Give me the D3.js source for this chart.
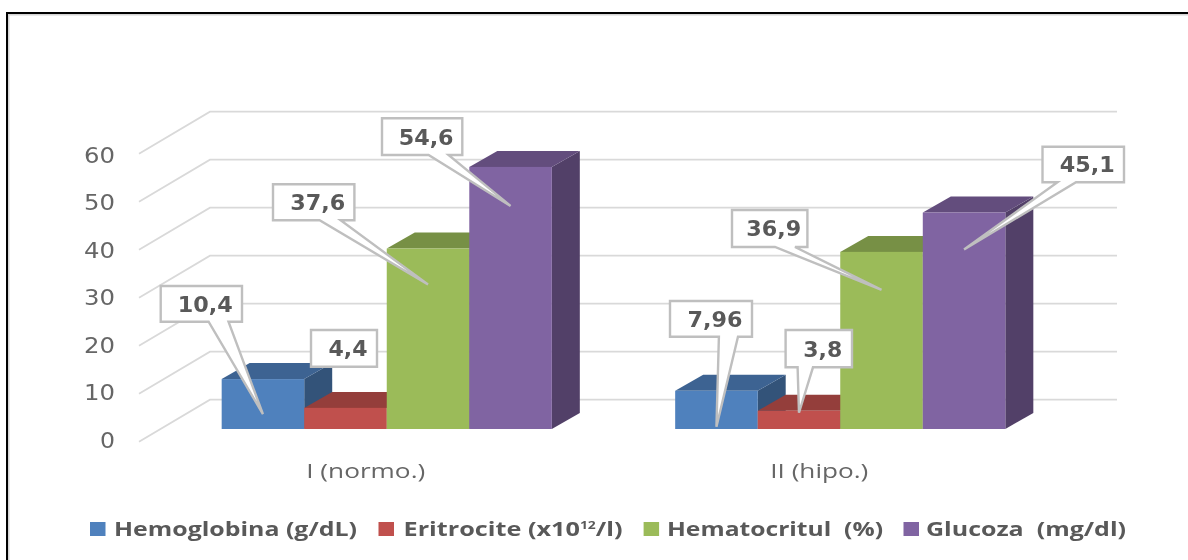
<!DOCTYPE html>
<html>
<head>
<meta charset="utf-8">
<script src="https://cdn.jsdelivr.net/npm/d3@7"></script>
<style>
  html, body { margin: 0; padding: 0; background: #fff; }
  svg { display: block; filter: blur(0.45px); }
  text { white-space: pre; }
</style>
</head>
<body>
<div id="chart"></div>
<script>
const categories = ["I (normo.)", "II (hipo.)"];
const seriesNames = ["Hemoglobina (g/dL)", "Eritrocite (x10", "Hematocritul  (%)", "Glucoza  (mg/dl)"];
const colors = ["#4f81bd", "#c0504d", "#9bbb59", "#8064a2"];
const hemoglobina = [10.4, 7.96];
const eritrocite = [4.4, 3.8];
const hematocrit = [37.6, 36.9];
const glucoza = [54.6, 45.1];
const seriesValues = [hemoglobina, eritrocite, hematocrit, glucoza];
const yTicks = [0, 10, 20, 30, 40, 50, 60];

const width = 1188;
const height = 560;

// offsets of the 3d box
const wallDx = 71, wallDy = 42;   // floor depth
const barOffX = 21, barOffY = 12.7; // front of the bars inside the floor
const depthX = 28, depthY = 16;   // bar depth

const svg = d3.select("#chart")
  .append("svg")
  .attr("width", width)
  .attr("height", height);

const y = d3.scaleLinear().domain([0, 60]).range([441.7, 153.7]);
const x0 = d3.scaleBand().domain(categories).range([139, 1046]).paddingInner(0.272).paddingOuter(0.136);
const x1 = d3.scaleBand().domain(seriesNames).range([0, x0.bandwidth()]);

// stretch a text to a given pixel width
function fit(sel, w) {
  sel.attr("textLength", w).attr("lengthAdjust", "spacingAndGlyphs");
}

// frame, only top and left are in the picture
svg.append("path").attr("d", "M1188,14.5H8.5V560").attr("fill", "none").attr("stroke", "#d4d4d4").attr("stroke-width", 2);
svg.append("path").attr("d", "M1188,13H7V560").attr("fill", "none").attr("stroke", "#000").attr("stroke-width", 2);

// grid lines, side wall and back wall
const grid = svg.append("g").attr("fill", "none").attr("stroke", "#d9d9d9").attr("stroke-width", 1.8);
yTicks.forEach(t => {
  grid.append("polyline").attr("points", [
    [139, y(t)],
    [139 + wallDx, y(t) - wallDy],
    [1046 + wallDx, y(t) - wallDy]
  ].join(" "));
});

// y axis labels, a bit tighter than the front edge of the wall
const yLabels = y.copy().range([440, 154.5]);
const yAxis = svg.append("g")
  .attr("transform", "translate(115,0)")
  .call(d3.axisLeft(yLabels).tickValues(yTicks).tickSize(0).tickPadding(0));
yAxis.select(".domain").remove();
yAxis.selectAll("text")
  .style("font-family", "'DejaVu Sans'")
  .style("font-size", "21px")
  .attr("fill", "#666")
  .attr("dy", "0.36em")
  .each(function (d) { fit(d3.select(this), d === 0 ? 15 : 31); });

// category labels
const xAxis = svg.append("g")
  .attr("transform", "translate(0,471)")
  .call(d3.axisBottom(x0).tickSize(0).tickPadding(0));
xAxis.select(".domain").remove();
xAxis.selectAll("text")
  .style("font-family", "'Open Sans'")
  .style("font-size", "20px")
  .attr("fill", "#666")
  .attr("y", 0)
  .attr("dy", "0.35em");
xAxis.selectAll("text").each(function (d, i) { fit(d3.select(this), i === 0 ? 119 : 98); });

// bars
const base = y(0) - barOffY;
const groups = svg.selectAll(".group")
  .data(categories)
  .enter()
  .append("g")
  .attr("class", "group")
  .attr("transform", d => `translate(${x0(d) + barOffX},0)`);

function shade(c, k) {
  const r = d3.rgb(c);
  return d3.rgb(r.r * k, r.g * k, r.b * k).formatHex();
}

seriesNames.forEach((name, s) => {
  groups.each(function (cat, c) {
    const g = d3.select(this);
    const bx = x1(name);
    const bw = x1.bandwidth();
    const top = y(seriesValues[s][c]) - barOffY;
    g.append("path")
      .attr("d", `M${bx + bw},${top}l${depthX},${-depthY}V${base - depthY}L${bx + bw},${base}Z`)
      .attr("fill", shade(colors[s], 0.64));
    g.append("path")
      .attr("d", `M${bx},${top}l${depthX},${-depthY}h${bw}l${-depthX},${depthY}Z`)
      .attr("fill", shade(colors[s], 0.77));
    g.append("rect")
      .attr("x", bx)
      .attr("y", top)
      .attr("width", bw)
      .attr("height", base - top)
      .attr("fill", colors[s]);
  });
});

// callouts: box corners, pointer foot and how far the tip is under the bar top
const callouts = [
  { s: 0, c: 0, box: [160.7, 286, 242, 321.7], foot: [208.6, 228.5], drop: 35 },
  { s: 2, c: 0, box: [273, 184.3, 354.4, 220.3], foot: [319.6, 340.6], drop: 36 },
  { s: 3, c: 0, box: [382, 118.3, 462.3, 155], foot: [428.6, 448.5], drop: 39 },
  { s: 1, c: 0, box: [311, 330, 377, 366.7], foot: null, drop: 0 },
  { s: 0, c: 1, box: [670, 301, 752, 336.7], foot: [718.9, 738], drop: 36 },
  { s: 2, c: 1, box: [732, 210, 807.4, 247], foot: [775, 795], drop: 38 },
  { s: 3, c: 1, box: [1042.5, 146.7, 1124, 182.3], foot: [1057.5, 1076], drop: 37 },
  { s: 1, c: 1, box: [785.6, 330, 852, 367.3], foot: [797.6, 813], drop: 2 }
];
const labelText = ["10,4", "7,96", "4,4", "3,8", "37,6", "36,9", "54,6", "45,1"];

callouts.forEach(o => {
  const [a, b, e, f] = o.box;
  const value = seriesValues[o.s][o.c];
  const tipX = x0(categories[o.c]) + barOffX + x1(seriesNames[o.s]) + x1.bandwidth() / 2;
  const tipY = y(value) - barOffY + o.drop;
  const path = d3.path();
  path.moveTo(a, b);
  path.lineTo(e, b);
  path.lineTo(e, f);
  if (o.foot) {
    path.lineTo(o.foot[1], f);
    path.lineTo(tipX, tipY);
    path.lineTo(o.foot[0], f);
  }
  path.lineTo(a, f);
  path.closePath();
  svg.append("path")
    .attr("d", path.toString())
    .attr("fill", "#fff")
    .attr("stroke", "#bfbfbf")
    .attr("stroke-width", 2.4);
  const txt = labelText[o.s * 2 + o.c];
  svg.append("text")
    .attr("x", (a + e) / 2 + 4)
    .attr("y", (b + f) / 2 + 0.5)
    .attr("dy", "0.36em")
    .attr("text-anchor", "middle")
    .style("font-family", "'DejaVu Sans'")
    .style("font-size", "20.5px")
    .style("font-weight", "bold")
    .attr("fill", "#595959")
    .text(txt)
    .call(fit, txt.length === 4 ? 55 : 39);
});

// legend
const legendSwatchX = [90, 378.5, 643.6, 903.5];
const legendTextX = [114, 403.5, 667, 926];
const legendTextW = [243, 219, 216, 200];
seriesNames.forEach((name, i) => {
  svg.append("rect")
    .attr("x", legendSwatchX[i])
    .attr("y", 522)
    .attr("width", 15.5)
    .attr("height", 14)
    .attr("fill", colors[i]);
  const t = svg.append("text")
    .attr("x", legendTextX[i])
    .attr("y", 536)
    .style("font-family", "'Open Sans'")
    .style("font-size", "20px")
    .style("font-weight", "bold")
    .attr("fill", "#595959")
    .text(name);
  if (i === 1) {
    t.append("tspan").attr("dy", -7).style("font-size", "11px").text("12");
    t.append("tspan").attr("dy", 7).text("/l)");
  }
  fit(t, legendTextW[i]);
});
</script>
</body>
</html>
